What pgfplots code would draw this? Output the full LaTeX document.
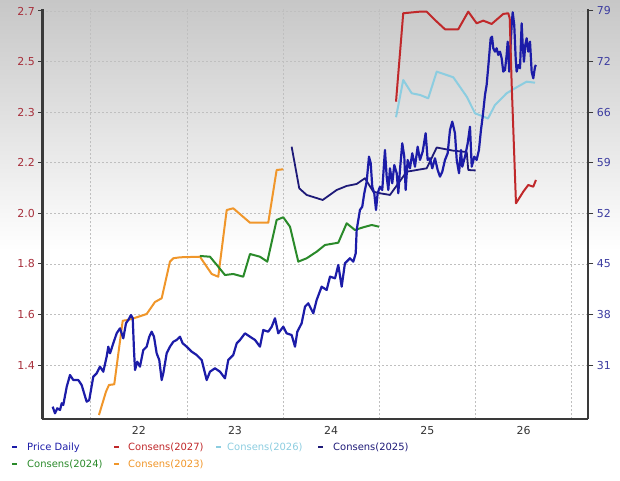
\documentclass[border=0pt]{standalone}
\usepackage{fontspec}
\setmainfont{DejaVu Sans}
\usepackage{pgfplots}
\pgfplotsset{compat=1.18}
\definecolor{cprice}{HTML}{1C1CA8}
\definecolor{c27}{HTML}{C0282A}
\definecolor{c26}{HTML}{8CCDE0}
\definecolor{c25}{HTML}{1E1A78}
\definecolor{c24}{HTML}{2A8A2A}
\definecolor{c23}{HTML}{F0962A}
\definecolor{lred}{HTML}{A8303C}
\definecolor{lblue}{HTML}{3C3CA0}
\definecolor{axgray}{HTML}{3A3A3A}
\begin{document}
\begin{tikzpicture}[x=1bp,y=1bp]
\useasboundingbox (0,0) rectangle (620,481);
\shade[top color=black!22,bottom color=white] (0,230) rectangle (620,481);
\begin{axis}[
  at={(42.3bp,61.7bp)}, anchor=south west, scale only axis,
  width=546bp, height=410.3bp,
  xmin=2021.497, xmax=2027.173, ymin=23.67, ymax=79.27,
  axis x line*=bottom, axis y line*=left,
  axis line style={line width=2.4bp, color=axgray},
  xtick={2022.5,2023.5,2024.5,2025.5,2026.5},
  xticklabels={22,23,24,25,26},
  minor xtick={2022,2023,2024,2025,2026,2027},
  major x tick style={draw=none},
  minor tick length=0pt,
  xminorgrids,
  ytick={31,37.857,44.714,51.571,58.429,65.286,72.143,79},
  yticklabels={1.4,1.6,1.8,2.0,2.2,2.3,2.5,2.7},
  ytick align=outside, major tick length=4bp,
  major y tick style={line width=1bp, color=axgray},
  ymajorgrids,
  grid style={dash pattern=on 2bp off 2bp, line width=0.6bp, color=black!25},
  minor grid style={dash pattern=on 2bp off 2bp, line width=0.6bp, color=black!25},
  ticklabel style={font=\fontsize{11}{13}\selectfont},
  yticklabel style={color=lred},
  xticklabel style={color=black!80, yshift=-4bp},
  /pgf/number format/assume math mode=true,
  line join=round,
]
\addplot[c23, line width=2bp] coordinates {
(2022.086,24.25) (2022.159,27.41) (2022.190,28.32) (2022.245,28.41)
(2022.333,37.03) (2022.388,37.13) (2022.478,37.49) (2022.582,37.94)
(2022.668,39.56) (2022.738,40.07) (2022.824,45.03) (2022.859,45.49)
(2022.928,45.62) (2023.136,45.70) (2023.206,44.35) (2023.258,43.36)
(2023.326,42.99) (2023.414,52.03) (2023.482,52.26) (2023.656,50.31)
(2023.846,50.31) (2023.933,57.45) (2024.002,57.55)
};
\addplot[c24, line width=2bp] coordinates {
(2023.136,45.80) (2023.240,45.70) (2023.326,44.35) (2023.396,43.22)
(2023.482,43.36) (2023.586,42.99) (2023.656,46.07) (2023.760,45.70)
(2023.836,45.03) (2023.933,50.68) (2024.002,51.04) (2024.072,49.77)
(2024.158,45.03) (2024.245,45.49) (2024.349,46.38) (2024.436,47.29)
(2024.574,47.60) (2024.661,50.23) (2024.747,49.32) (2024.834,49.69)
(2024.921,50.00) (2024.997,49.77)
};
\addplot[c25, line width=1.8bp] coordinates {
(2024.089,60.61) (2024.168,54.97) (2024.245,54.07) (2024.412,53.39)
(2024.557,54.74) (2024.661,55.29) (2024.765,55.56) (2024.851,56.33)
(2024.938,54.51) (2025.007,54.30) (2025.111,54.07) (2025.285,57.22)
(2025.493,57.68) (2025.597,60.50) (2025.769,60.07) (2025.909,59.89)
(2025.925,57.45) (2026.002,57.39)
};
\addplot[c26, line width=2bp] coordinates {
(2025.174,64.60) (2025.249,69.65) (2025.337,67.85) (2025.423,67.62)
(2025.509,67.17) (2025.597,70.78) (2025.769,70.02) (2025.909,67.39)
(2025.995,65.14) (2026.081,64.70) (2026.130,64.43) (2026.203,66.26)
(2026.324,67.85) (2026.428,68.66) (2026.532,69.42) (2026.619,69.28)
};
\addplot[cprice, line width=2.2bp] coordinates {
(2021.605,25.38) (2021.629,24.48) (2021.653,25.16) (2021.681,24.93)
(2021.699,25.84) (2021.715,25.61) (2021.751,28.09) (2021.785,29.67)
(2021.819,28.99) (2021.871,28.99) (2021.906,28.32) (2021.958,26.05)
(2021.985,26.28) (2022.027,29.44) (2022.062,29.90) (2022.097,30.80)
(2022.131,30.12) (2022.166,32.15) (2022.183,33.51) (2022.201,32.61)
(2022.235,33.97) (2022.270,35.32) (2022.305,36.00) (2022.339,34.65)
(2022.367,36.68) (2022.391,37.13) (2022.419,37.80) (2022.437,37.36)
(2022.450,33.06) (2022.461,30.35) (2022.484,31.47) (2022.512,30.80)
(2022.547,33.06) (2022.582,33.51) (2022.609,34.86) (2022.634,35.54)
(2022.658,34.86) (2022.686,32.61) (2022.713,31.70) (2022.738,28.99)
(2022.755,29.90) (2022.790,32.61) (2022.824,33.51) (2022.859,34.18)
(2022.894,34.42) (2022.928,34.86) (2022.956,33.97) (2022.998,33.51)
(2023.050,32.83) (2023.102,32.38) (2023.154,31.70) (2023.206,28.99)
(2023.240,30.12) (2023.292,30.58) (2023.344,30.12) (2023.396,29.22)
(2023.430,31.70) (2023.482,32.38) (2023.518,33.97) (2023.552,34.42)
(2023.604,35.32) (2023.656,34.86) (2023.708,34.42) (2023.760,33.51)
(2023.794,35.77) (2023.846,35.54) (2023.882,36.22) (2023.916,37.36)
(2023.950,35.32) (2024.002,36.22) (2024.037,35.32) (2024.089,35.09)
(2024.124,33.51) (2024.148,35.54) (2024.193,36.68) (2024.228,38.93)
(2024.262,39.39) (2024.314,38.03) (2024.349,39.84) (2024.401,41.64)
(2024.453,41.19) (2024.488,43.00) (2024.540,42.78) (2024.574,44.58)
(2024.609,41.64) (2024.643,44.81) (2024.695,45.49) (2024.730,45.03)
(2024.755,46.16) (2024.765,49.32) (2024.799,52.03) (2024.823,52.48)
(2024.844,54.30) (2024.869,55.87) (2024.893,59.26) (2024.911,58.36)
(2024.927,55.19) (2024.948,54.30) (2024.966,52.03) (2024.983,54.30)
(2025.007,55.19) (2025.031,54.74) (2025.059,60.16) (2025.077,56.55)
(2025.094,54.74) (2025.111,57.68) (2025.135,55.65) (2025.156,58.13)
(2025.181,57.01) (2025.198,54.30) (2025.215,57.45) (2025.239,61.07)
(2025.260,59.26) (2025.274,54.74) (2025.295,58.81) (2025.319,57.68)
(2025.343,59.72) (2025.371,57.90) (2025.399,60.61) (2025.423,58.81)
(2025.451,59.93) (2025.482,62.43) (2025.503,58.81) (2025.527,59.04)
(2025.551,57.68) (2025.579,59.04) (2025.607,57.45) (2025.631,56.55)
(2025.655,57.22) (2025.683,58.81) (2025.711,59.72) (2025.735,62.87)
(2025.759,64.00) (2025.787,62.43) (2025.805,58.81) (2025.829,57.01)
(2025.849,60.16) (2025.863,57.90) (2025.891,59.26) (2025.919,61.07)
(2025.943,63.32) (2025.961,57.90) (2025.988,59.26) (2026.012,58.81)
(2026.036,60.16) (2026.057,62.87) (2026.075,64.68) (2026.099,67.62)
(2026.116,68.97) (2026.133,71.45) (2026.158,75.30) (2026.172,75.52)
(2026.185,73.95) (2026.203,73.49) (2026.220,73.95) (2026.237,73.04)
(2026.255,73.49) (2026.272,72.59) (2026.289,70.78) (2026.307,71.01)
(2026.324,73.04) (2026.335,74.84) (2026.351,70.78) (2026.376,77.10)
(2026.387,78.83) (2026.403,77.10) (2026.418,72.59) (2026.428,70.78)
(2026.445,71.68) (2026.463,71.24) (2026.480,77.33) (2026.491,74.39)
(2026.504,72.13) (2026.518,74.39) (2026.532,75.30) (2026.549,73.49)
(2026.567,74.84) (2026.584,70.78) (2026.601,69.88) (2026.619,71.45)
(2026.629,71.68)
};
\addplot[c27, line width=2bp] coordinates {
(2025.174,66.71) (2025.249,78.69) (2025.423,78.91) (2025.493,78.91)
(2025.579,77.78) (2025.683,76.52) (2025.821,76.52) (2025.925,78.91)
(2026.012,77.33) (2026.081,77.69) (2026.168,77.24) (2026.289,78.60)
(2026.341,78.69) (2026.356,78.01) (2026.376,69.20) (2026.421,52.94)
(2026.497,54.51) (2026.549,55.42) (2026.601,55.19) (2026.629,56.10)
};
\end{axis}
\begin{axis}[
  at={(42.3bp,61.7bp)}, anchor=south west, scale only axis,
  width=546bp, height=410.3bp,
  xmin=2021.497, xmax=2027.173, ymin=23.67, ymax=79.27,
  axis x line=none, axis y line*=right,
  axis line style={line width=2bp, color=axgray},
  xtick=\empty,
  ytick={31,37.857,44.714,51.571,58.429,65.286,72.143,79},
  yticklabels={31,38,45,52,59,66,72,79},
  minor y tick num=3,
  ytick align=outside, major tick length=5bp, minor tick length=3bp,
  every tick/.style={line width=1bp, color=axgray},
  ticklabel style={font=\fontsize{11}{13}\selectfont},
  yticklabel style={color=lblue},
  /pgf/number format/assume math mode=true,
]
\addplot[draw=none] coordinates {(2022,30)};
\end{axis}
\begin{scope}[font=\fontsize{10}{12}\selectfont]
\draw[cprice, line width=2bp] (12,33.7) -- (17,33.7);
\node[anchor=base west, inner sep=0, text=cprice] at (27,30.1) {Price Daily};
\draw[c27, line width=2bp] (114,33.7) -- (119,33.7);
\node[anchor=base west, inner sep=0, text=c27] at (128,30.1) {Consens(2027)};
\draw[c26, line width=2bp] (216,33.7) -- (221,33.7);
\node[anchor=base west, inner sep=0, text=c26] at (227,30.1) {Consens(2026)};
\draw[c25, line width=2bp] (318,33.7) -- (323,33.7);
\node[anchor=base west, inner sep=0, text=c25] at (333,30.1) {Consens(2025)};
\draw[c24, line width=2bp] (12,17) -- (17,17);
\node[anchor=base west, inner sep=0, text=c24] at (27,13.4) {Consens(2024)};
\draw[c23, line width=2bp] (114,17) -- (119,17);
\node[anchor=base west, inner sep=0, text=c23] at (128,13.4) {Consens(2023)};
\end{scope}
\end{tikzpicture}
\end{document}
